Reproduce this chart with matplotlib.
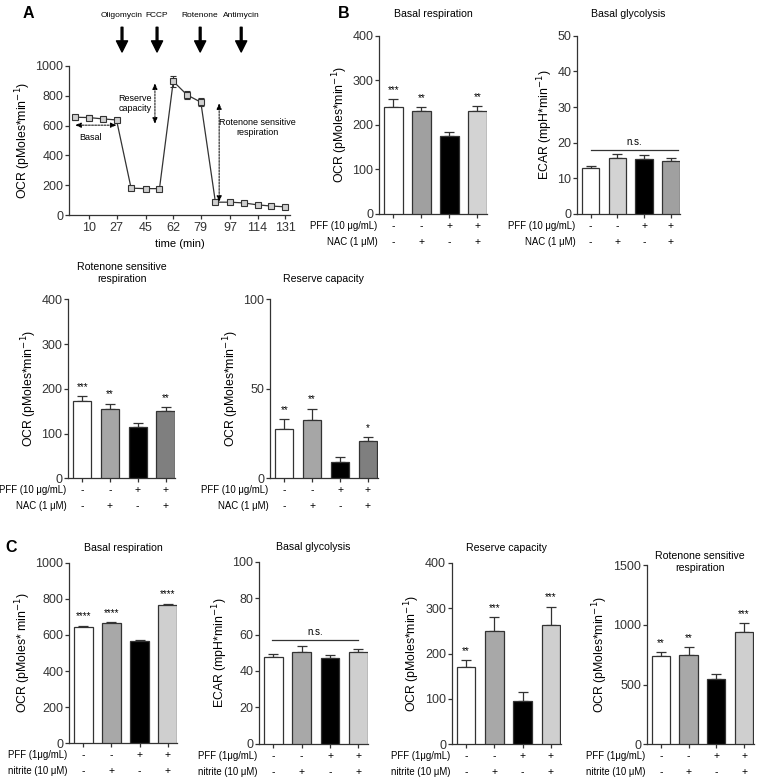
import numpy as np
import matplotlib
matplotlib.use("Agg")
import matplotlib.pyplot as plt

plt.rcParams['font.family'] = ['Liberation Sans', 'DejaVu Sans']
plt.rcParams['axes.linewidth'] = 0.9
plt.rcParams['axes.edgecolor'] = '#333333'
plt.rcParams['xtick.color'] = '#333333'
plt.rcParams['ytick.color'] = '#333333'

# ---- panel A: OCR trace ----
time_min = [1.5, 10, 18.5, 27, 36, 45, 53.5, 62, 70.5, 79, 88, 97, 105.5, 114, 122.5, 131]
ocr_trace = [656, 654, 645, 638, 180, 177, 177, 897, 806, 757, 86, 86, 81, 68, 60, 55]
ocr_trace_err = [18, 15, 14, 14, 8, 6, 6, 35, 28, 28, 6, 6, 5, 5, 5, 5]
time_ticks = [10, 27, 45, 62, 79, 97, 114, 131]
injections = ['Oligomycin', 'FCCP', 'Rotenone', 'Antimycin']
injection_time = [30.4, 52.0, 78.6, 103.9]

# ---- panel B (PFF 10 ug/mL, NAC) ----
pff_b = ['-', '-', '+', '+']
nac_b = ['-', '+', '-', '+']
b_basal_resp = [241, 232, 176, 231]
b_basal_resp_err = [17, 7, 9, 11]
b_basal_resp_stars = ['***', '**', '', '**']
b_basal_gly = [13.0, 15.8, 15.4, 14.8]
b_basal_gly_err = [0.6, 1.0, 1.1, 0.9]
b_rot = [172, 155, 114, 151]
b_rot_err = [12, 12, 9, 8]
b_rot_stars = ['***', '**', '', '**']
b_reserve = [27.7, 32.4, 8.9, 21.0]
b_reserve_err = [5.4, 6.5, 2.8, 1.9]
b_reserve_stars = ['**', '**', '', '*']

# ---- panel C (PFF 1 ug/mL, nitrite) ----
pff_c = ['-', '-', '+', '+']
nitrite_c = ['-', '+', '-', '+']
c_basal_resp = [645, 664, 568, 764]
c_basal_resp_err = [6, 6, 4, 10]
c_basal_resp_stars = ['****', '****', '', '****']
c_basal_gly = [47.9, 50.5, 47.0, 50.3]
c_basal_gly_err = [1.5, 3.3, 1.6, 2.0]
c_reserve = [170, 250, 96, 262]
c_reserve_err = [16, 30, 20, 41]
c_reserve_stars = ['**', '***', '', '***']
c_rot = [736, 747, 544, 942]
c_rot_err = [36, 64, 41, 70]
c_rot_stars = ['**', '**', '', '***']

W, H = 760, 782
fig = plt.figure(figsize=(W / 100, H / 100), dpi=100)


def add_ax(left, right, top, bottom):
    return fig.add_axes([left / W, 1 - bottom / H, (right - left) / W, (bottom - top) / H])


def style_ax(ax):
    ax.spines['top'].set_visible(False)
    ax.spines['right'].set_visible(False)
    ax.tick_params(axis='y', length=3, width=0.9, labelsize=9, pad=1)
    ax.tick_params(axis='x', length=3, width=0.9, labelsize=9, pad=2)


def bar_panel(rect, vals, errs, colors, ylim, yticks, title, ylabel, stars,
              row_names, row_vals, title_y=1.08, ns=None):
    ax = add_ax(*rect)
    x = np.arange(len(vals))
    ax.bar(x, vals, width=0.66, color=colors, edgecolor='#333333', linewidth=0.9, zorder=3)
    ax.errorbar(x, vals, yerr=[np.zeros(len(errs)), errs], fmt='none', ecolor='#333333',
                elinewidth=0.9, capsize=3.5, capthick=0.9, zorder=2)
    ax.set_xlim(-0.51, 3.34)
    ax.set_ylim(*ylim)
    ax.set_yticks(yticks)
    ax.set_xticks(x)
    ax.set_xticklabels([])
    style_ax(ax)
    ax.set_ylabel(ylabel, fontsize=8.8, labelpad=2)
    ax.set_title(title, fontsize=7.6, y=title_y)
    if stars is not None:
        for i, s in enumerate(stars):
            if s:
                ax.annotate(s, (i, vals[i] + errs[i]), xytext=(0, 3), textcoords='offset points',
                            ha='center', va='bottom', fontsize=7)
    offsets = [-8.6, -20.2]
    for r, (name, signs) in enumerate(zip(row_names, row_vals)):
        ax.annotate(name, (0, 0), xycoords='axes fraction', xytext=(-1, offsets[r]),
                    textcoords='offset points', ha='right', va='center', fontsize=6.9)
        for i, s in enumerate(signs):
            ax.annotate(s, (i, 0), xycoords=('data', 'axes fraction'), xytext=(0, offsets[r]),
                        textcoords='offset points', ha='center', va='center', fontsize=7.5)
    if ns is not None:
        x0, x1, yv = ns
        ax.plot([x0, x1], [yv, yv], color='#333333', lw=0.9)
        ax.annotate('n.s.', ((x0 + x1) / 2, yv), xytext=(0, 2), textcoords='offset points',
                    ha='center', va='bottom', fontsize=7)
    return ax


# ---------------- panel A ----------------
axA = add_ax(69, 290, 66, 215)
axA.errorbar(time_min, ocr_trace, yerr=ocr_trace_err, color='#333333', lw=0.9,
             marker='s', markersize=4.5, markerfacecolor='#d0d0d0', markeredgecolor='#333333',
             markeredgewidth=0.8, ecolor='#333333', elinewidth=0.8, capsize=2)
axA.set_xlim(-2.3, 134)
axA.set_ylim(0, 1000)
axA.set_xticks(time_ticks)
axA.set_yticks([0, 200, 400, 600, 800, 1000])
style_ax(axA)
axA.set_xlabel('time (min)', fontsize=8, labelpad=3.5)
axA.set_ylabel('OCR (pMoles*min$^{-1}$)', fontsize=8.8, labelpad=2)
for name, t in zip(injections, injection_time):
    axA.annotate('', xy=(t, 1.094), xytext=(t, 1.26), xycoords=('data', 'axes fraction'),
                 arrowprops=dict(width=1.3, headwidth=8, headlength=8, color='black'),
                 annotation_clip=False)
    axA.annotate(name, (t, 1.34), xycoords=('data', 'axes fraction'), ha='center',
                 va='center', fontsize=6, annotation_clip=False)

dash_arrow = dict(arrowstyle='<|-|>,head_length=0.35,head_width=0.15', linestyle=(0, (2, 1.2)),
                  lw=0.7, color='black', shrinkA=0, shrinkB=0)
axA.annotate('', xy=(1.5, 603), xytext=(27, 603), arrowprops=dash_arrow)
axA.text(10.7, 523, 'Basal', fontsize=6.5, ha='center', va='center')
axA.annotate('', xy=(50.7, 612), xytext=(50.7, 884), arrowprops=dash_arrow)
axA.text(38.5, 748, 'Reserve\ncapacity', fontsize=6.5, ha='center', va='center', linespacing=1.1)
axA.annotate('', xy=(90.3, 88), xytext=(90.3, 750), arrowprops=dash_arrow)
axA.text(114, 585, 'Rotenone sensitive\nrespiration', fontsize=6.5, ha='center', va='center',
         linespacing=1.1)

fig.text(28 / W, 1 - 14 / H, 'A', fontsize=11.5, fontweight='bold', ha='center', va='center')
fig.text(344 / W, 1 - 14 / H, 'B', fontsize=11.5, fontweight='bold', ha='center', va='center')
fig.text(11 / W, 1 - 547 / H, 'C', fontsize=11.5, fontweight='bold', ha='center', va='center')

# ---------------- panel B ----------------
ocr_lbl = 'OCR (pMoles*min$^{-1}$)'
ecar_lbl = 'ECAR (mpH*min$^{-1}$)'
b_rows = ['PFF (10 μg/mL)', 'NAC (1 μM)']
bar_panel((379, 487, 35.7, 214), b_basal_resp, b_basal_resp_err,
          ['white', '#a0a0a0', 'black', '#d3d3d3'], (0, 400), [0, 100, 200, 300, 400],
          'Basal respiration', ocr_lbl, b_basal_resp_stars, b_rows, [pff_b, nac_b], title_y=1.06)
bar_panel((577, 680, 35.7, 214), b_basal_gly, b_basal_gly_err,
          ['white', '#d3d3d3', 'black', '#a0a0a0'], (0, 50), [0, 10, 20, 30, 40, 50],
          'Basal glycolysis', ecar_lbl, None, b_rows, [pff_b, nac_b], title_y=1.06,
          ns=(0, 3.27, 18.0))
bar_panel((68, 175, 299.3, 478.3), b_rot, b_rot_err,
          ['white', '#a6a6a6', 'black', '#7f7f7f'], (0, 400), [0, 100, 200, 300, 400],
          'Rotenone sensitive\nrespiration', ocr_lbl, b_rot_stars, b_rows, [pff_b, nac_b],
          title_y=1.05)
bar_panel((270, 377.5, 299.3, 478.3), b_reserve, b_reserve_err,
          ['white', '#a6a6a6', 'black', '#7f7f7f'], (0, 100), [0, 50, 100],
          'Reserve capacity', ocr_lbl, b_reserve_stars, b_rows, [pff_b, nac_b], title_y=1.05)

# ---------------- panel C ----------------
c_rows = ['PFF (1μg/mL)', 'nitrite (10 μM)']
c_colors = ['white', '#a8a8a8', 'black', '#cfcfcf']
bar_panel((69, 177.3, 562.7, 743.3), c_basal_resp, c_basal_resp_err, c_colors,
          (0, 1000), [0, 200, 400, 600, 800, 1000], 'Basal respiration',
          'OCR (pMoles* min$^{-1}$)', c_basal_resp_stars, c_rows, [pff_c, nitrite_c], title_y=1.02)
bar_panel((259, 368, 561.7, 743.7), c_basal_gly, c_basal_gly_err, c_colors,
          (0, 100), [0, 20, 40, 60, 80, 100], 'Basal glycolysis', ecar_lbl, None,
          c_rows, [pff_c, nitrite_c], title_y=1.02, ns=(-0.04, 3.0, 56.9))
bar_panel((451.7, 560.5, 562.7, 744.3), c_reserve, c_reserve_err, c_colors,
          (0, 400), [0, 100, 200, 300, 400], 'Reserve capacity', ocr_lbl, c_reserve_stars,
          c_rows, [pff_c, nitrite_c], title_y=1.02)
bar_panel((646.7, 753.5, 565, 744.3), c_rot, c_rot_err, c_colors,
          (0, 1500), [0, 500, 1000, 1500], 'Rotenone sensitive\nrespiration', ocr_lbl,
          c_rot_stars, c_rows, [pff_c, nitrite_c], title_y=0.92)

fig.savefig('out.png', dpi=100, facecolor='white')
